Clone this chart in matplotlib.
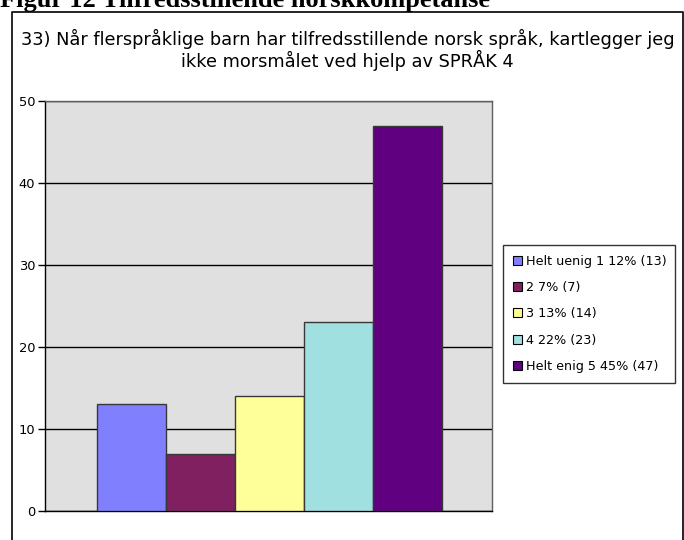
import matplotlib
matplotlib.use('Agg')
import matplotlib.pyplot as plt
from matplotlib.patches import Patch
from matplotlib.lines import Line2D

# Survey answers, statement 33
labels = ['Helt uenig 1 12% (13)', '2 7% (7)', '3 13% (14)', '4 22% (23)', 'Helt enig 5 45% (47)']
counts = [13, 7, 14, 23, 47]
colors = ['#8080FF', '#802060', '#FFFF99', '#A0E0E0', '#600080']
yticks = [0, 10, 20, 30, 40, 50]

heading = 'Figur 12 Tilfredsstillende norskkompetanse'
title = ('33) Når flerspråklige barn har tilfredsstillende norsk språk, kartlegger jeg\n'
         'ikke morsmålet ved hjelp av SPRÅK 4')

W, H = 684, 540
plt.rcParams['font.family'] = ['DejaVu Sans']
fig = plt.figure(figsize=(W / 100, H / 100), dpi=100)

# page heading, partly cut off at the top edge
fig.text(0, 1 - 7 / H, heading, family='Liberation Serif', weight='bold',
         fontsize=19, ha='left', va='baseline')

# chart frame (open at the bottom)
fx0, fx1, fy = 12 / W, 683 / W, 1 - 12 / H
fig.add_artist(Line2D([fx0, fx0, fx1, fx1], [0, fy, fy, 0],
                      transform=fig.transFigure, color='black', lw=1.2))

fig.text(347.5 / W, 1 - 50 / H, title, ha='center', va='center',
         fontsize=12.8, linespacing=1.1)

ax = fig.add_axes([45 / W, 29 / H, 447 / W, 410 / H])
ax.set_facecolor('#E0E0E0')
for i, (c, col) in enumerate(zip(counts, colors)):
    ax.bar(i, c, width=1.0, color=col, edgecolor='#383838', linewidth=1.0, zorder=3)

ax.set_xlim(-1.25, 5.23)
ax.set_ylim(0, 50)
ax.set_yticks(yticks)
ax.set_xticks([])
ax.grid(axis='y', color='black', lw=1.0, zorder=1)
ax.set_axisbelow(True)
ax.tick_params(axis='y', direction='out', length=5, width=1, labelsize=9.4, pad=2)
for s in ['left', 'bottom']:
    ax.spines[s].set_color('black')
    ax.spines[s].set_linewidth(1.0)
for s in ['top', 'right']:
    ax.spines[s].set_color('#606060')
    ax.spines[s].set_linewidth(1.0)

handles = [Patch(facecolor=col, edgecolor='black', linewidth=0.8) for col in colors]
leg = fig.legend(handles, labels, loc='upper left',
                 bbox_to_anchor=(503 / W, 1 - 386 / H, 172 / W, 141 / H), mode='expand',
                 fontsize=9.2, frameon=True, fancybox=False, edgecolor='black',
                 handlelength=0.7, handleheight=0.7, handletextpad=0.35,
                 labelspacing=1.05, borderpad=0.75, borderaxespad=0)
leg.get_frame().set_linewidth(1.0)

fig.savefig('out.png', dpi=100)
